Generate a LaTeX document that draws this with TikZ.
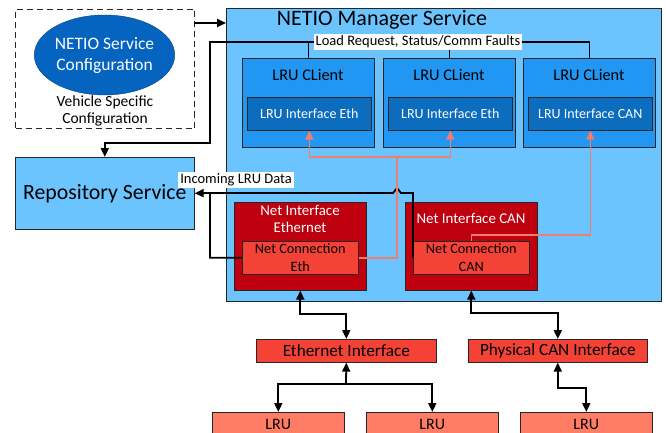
\documentclass[tikz,border=0pt]{standalone}
\usepackage{fontspec}
\setmainfont{Carlito}
\usetikzlibrary{arrows.meta,shapes.geometric}

\definecolor{mgrblue}{RGB}{108,196,255}
\definecolor{clientblue}{RGB}{33,150,243}
\definecolor{ifblue}{RGB}{12,108,190}
\definecolor{cfgblue}{RGB}{5,100,192}
\definecolor{netred}{RGB}{190,0,15}
\definecolor{connred}{RGB}{244,67,54}
\definecolor{lrusalmon}{RGB}{255,125,100}
\definecolor{feedpink}{RGB}{240,125,110}

\begin{document}
\begin{tikzpicture}[x=1pt,y=-1pt,
        every node/.style={font=\fontsize{14.5}{17}\selectfont,align=center,inner sep=0pt},
        box/.style={draw=black!85,line width=0.6pt,anchor=north west},
        tag/.style={fill=white,inner xsep=2pt,inner ysep=2pt},
        bus/.style={line width=1.3pt},
        wire/.style={line width=1.8pt},
        link/.style={line width=1.8pt,-{Triangle[length=9pt,width=8pt]}},
        duplex/.style={line width=1.8pt,{Triangle[length=9pt,width=8pt]}-{Triangle[length=9pt,width=8pt]}},
        feed/.style={draw=feedpink,line width=1.5pt,-{Triangle[length=9pt,width=8pt,fill=feedpink]}},
        ]
\useasboundingbox (0,0) rectangle (666,433);

% configuration
\node[box,line width=1pt,dash pattern=on 6pt off 4pt,minimum width=179pt,minimum height=119pt] (vehicle) at (15,9) {};
\node[ellipse,fill=cfgblue,draw=cfgblue!70!black,minimum width=127pt,minimum height=80pt,
      text=white,font=\fontsize{17.5}{21}\selectfont] (config) at (104.5,55) {NETIO Service\\Configuration};
\node[font=\fontsize{15.5}{16.5}\selectfont] (vehiclelbl) at (105,111) {Vehicle Specific\\Configuration};

% manager
\node[box,fill=mgrblue,minimum width=435pt,minimum height=293pt] (manager) at (226,8) {};
\node[font=\fontsize{22}{26}\selectfont] (managerlbl) at (382,20) {NETIO Manager Service};
\node[box,fill=mgrblue,minimum width=179pt,minimum height=72pt,font=\fontsize{21.8}{26}\selectfont] (repo) at (15,157) {Repository Service};

\foreach \i/\x/\kind in {1/242/Eth,2/383/Eth,3/523/CAN} {
    \node[box,fill=clientblue,minimum width=132pt,minimum height=89pt] (client\i) at (\x,58) {};
    \node[font=\fontsize{16.3}{19}\selectfont] (client\i lbl) at ({\x+66},75) {LRU CLient};
    \node[box,fill=ifblue,text=white,minimum width=124pt,minimum height=33pt,font=\fontsize{14}{17}\selectfont] (lruif\i) at ({\x+5},97) {LRU Interface \kind};
}

\node[box,fill=netred,minimum width=132pt,minimum height=88pt] (netifeth) at (234,202) {};
\node[text=white,font=\fontsize{14.9}{17}\selectfont] (netifethlbl) at (300,218.5) {Net Interface\\Ethernet};
\node[box,fill=connred,minimum width=116pt,minimum height=33pt,font=\fontsize{14.3}{18}\selectfont] (netconeth) at (242,241) {Net Connection\\Eth};
\node[box,fill=netred,minimum width=132pt,minimum height=88pt] (netifcan) at (405,202) {};
\node[text=white,font=\fontsize{14.9}{17}\selectfont] (netifcanlbl) at (471,218) {Net Interface CAN};
\node[box,fill=connred,minimum width=116pt,minimum height=33pt,font=\fontsize{14.3}{18}\selectfont] (netconcan) at (413,241) {Net Connection\\CAN};

% physical side
\node[box,fill=connred,minimum width=180pt,minimum height=23pt,font=\fontsize{17.2}{20}\selectfont] (ethif) at (256,339) {Ethernet Interface};
\node[box,fill=connred,minimum width=179pt,minimum height=23pt,font=\fontsize{17.2}{20}\selectfont] (canif) at (468,339) {Physical CAN Interface};
\foreach \i/\x in {1/212,2/366,3/520}
    \node[box,fill=lrusalmon,minimum width=132pt,minimum height=24pt,font=\fontsize{16}{19}\selectfont] (lru\i) at (\x,412) {LRU};

% labels on wires
\node[tag] (loadlbl) at (418,42) {Load Request, Status/Comm Faults};
\node[tag] (incominglbl) at (236,180) {Incoming LRU Data};

\coordinate (cfgout) at (194,23);
\coordinate (busdrop) at (210,143);
\coordinate (datajoin) at (210,193);
\coordinate (ethsplit) at (397,157);
\coordinate (ethfan) at (346,384);

\draw[link] (cfgout) -- (cfgout -| manager.west);

\draw[bus] (client1.north) -- (client1.north |- loadlbl);
\draw[bus] (client2.north) -- (client2.north |- loadlbl.south);
\draw[bus] (client3.north) |- (loadlbl.east);
\draw[link] (loadlbl.west) -| (busdrop) -| (repo.north);

\draw[link] (netconeth.west) -| (datajoin) -- (repo.east);
\draw[wire] (netconcan.west) -- (netconcan.west |- datajoin) -- ++(-12,0) -- ++(-4,-5) -- ++(-4,5) -- (datajoin);

\draw[feed] (netconeth.east) -| (ethsplit) -| (lruif1.south);
\draw[feed] (ethsplit) -| (lruif2.south);
\draw[feed] (netconcan.north) -- ++(0,-6) -| (lruif3.south);

\draw[duplex] (netifeth.south) -- ++(0,23) -| (ethif.north);
\draw[duplex] (netifcan.south) -- ++(0,22) -| (canif.north);
\draw[link] (ethfan) -- (ethif.south);
\draw[link] (ethfan) -| (lru1.north);
\draw[link] (ethfan) -| (lru2.north);
\draw[duplex] (canif.south) -- ++(0,25) -| (lru3.north);

\end{tikzpicture}
\end{document}
